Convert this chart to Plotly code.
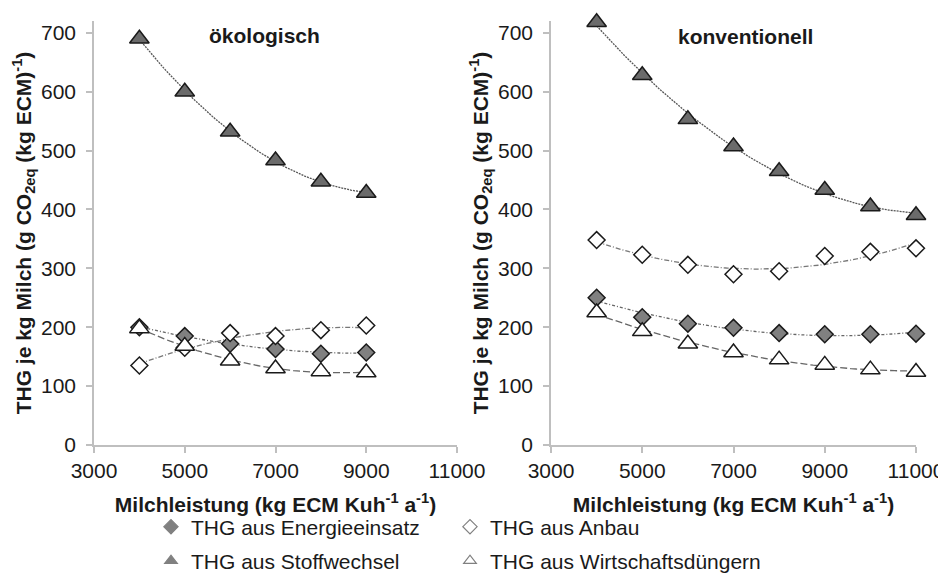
import numpy as np
import plotly.graph_objects as go

# --- data ---
x_oeko = [4000, 5000, 6000, 7000, 8000, 9000]
x_konv = [4000, 5000, 6000, 7000, 8000, 9000, 10000, 11000]

oeko_energie = [200, 185, 172, 163, 155, 157]
oeko_anbau = [135, 165, 190, 185, 195, 203]
oeko_stoffwechsel = [690, 600, 532, 483, 447, 428]
oeko_wirtschaft = [198, 168, 143, 130, 125, 123]

konv_energie = [250, 217, 206, 199, 190, 188, 188, 189]
konv_anbau = [348, 323, 306, 290, 295, 321, 328, 334]
konv_stoffwechsel = [718, 628, 553, 507, 465, 433, 405, 390]
konv_wirtschaft = [225, 193, 172, 157, 145, 136, 128, 124]

series_names = ["THG aus Energieeinsatz", "THG aus Anbau",
                "THG aus Stoffwechsel", "THG aus Wirtschaftsdüngern"]
x_ticks = [3000, 5000, 7000, 9000, 11000]
y_ticks = [0, 100, 200, 300, 400, 500, 600, 700]

FONT = "Liberation Sans, Arial, sans-serif"
OFF = 8  # page body margin
W, H = 946 - OFF, 584 - OFF
# plot area, in screen pixels
L, R, T, B = 94, 916, 21, 445

styles = {
    "THG aus Energieeinsatz": dict(symbol="diamond", fill="#808080", size=13,
                                   dash="3px,2px,1px,2px", lc="#666666"),
    "THG aus Anbau": dict(symbol="diamond", fill="white", size=13,
                          dash="5px,2px,1px,2px", lc="#777777"),
    "THG aus Stoffwechsel": dict(symbol="triangle-up", fill="#6b6b6b", size=17,
                                 dash="2px,1px", lc="#555555"),
    "THG aus Wirtschaftsdüngern": dict(symbol="triangle-up", fill="white", size=17,
                                       dash="7px,3px", lc="#666666"),
}


def px_x(p):
    return (p - L) / (R - L)


def px_y(p):
    return (B - p) / (B - T)


fig = go.Figure()


def add_panel(xs, ys_list, xaxis, yaxis):
    for name, ys in zip(series_names, ys_list):
        st = styles[name]
        # Excel-style 2nd order polynomial trendline
        coef = np.polyfit(xs, ys, 2)
        xf = np.linspace(min(xs), max(xs), 60)
        fig.add_trace(go.Scatter(
            x=xf, y=np.polyval(coef, xf), mode="lines", showlegend=False,
            line=dict(color=st["lc"], width=1.3, dash=st["dash"]),
            xaxis=xaxis, yaxis=yaxis, hoverinfo="skip", cliponaxis=False))
        fig.add_trace(go.Scatter(
            x=xs, y=ys, mode="markers", name=name, showlegend=False,
            marker=dict(symbol=st["symbol"], size=st["size"], color=st["fill"],
                        line=dict(color="#1a1a1a", width=1.5)),
            xaxis=xaxis, yaxis=yaxis, cliponaxis=False))


add_panel(x_oeko, [oeko_energie, oeko_anbau, oeko_stoffwechsel, oeko_wirtschaft], "x", "y")
add_panel(x_konv, [konv_energie, konv_anbau, konv_stoffwechsel, konv_wirtschaft], "x2", "y2")

# legend-only entries with small markers, laid out 2 x 2 (one legend box each)
legend_fill = {"THG aus Energieeinsatz": "#808080", "THG aus Anbau": "white",
               "THG aus Stoffwechsel": "#808080", "THG aus Wirtschaftsdüngern": "white"}
legend_ids = ["legend", "legend2", "legend3", "legend4"]
legend_pos = [(151, 527), (450, 527), (151, 561), (450, 561)]
for name, lid in zip(series_names, legend_ids):
    fig.add_trace(go.Scatter(
        x=[None], y=[None], mode="markers", name=name, legend=lid,
        marker=dict(symbol=styles[name]["symbol"], size=11, color=legend_fill[name],
                    line=dict(color="#808080", width=1.2))))

axis_common = dict(
    showline=True, linecolor="#bfbfbf", linewidth=1.5, showgrid=False, zeroline=False,
    ticks="outside", tickcolor="#bfbfbf", ticklen=6, tickwidth=1.5,
    tickfont=dict(family=FONT, size=21, color="#1a1a1a"),
)
ytitle = "<b>THG je kg Milch (g CO<sub>2eq</sub> (kg ECM)<sup>-1</sup>)</b>"
xtitle = "<b>Milchleistung (kg ECM Kuh<sup>-1</sup> a<sup>-1</sup>)</b>"
title_font = dict(family=FONT, size=21, color="#1a1a1a")
x_labels = [str(v) for v in x_ticks]
leg_font = dict(family=FONT, size=21, color="#1a1a1a")

legends = {}
for lid, (lx, ly) in zip(legend_ids, legend_pos):
    legends[lid] = dict(x=px_x(lx), y=px_y(ly), xanchor="left", yanchor="middle",
                        font=leg_font, itemclick=False, bgcolor="rgba(0,0,0,0)")

fig.update_layout(
    width=W, height=H,
    margin=dict(l=L - OFF, r=W - (R - OFF), t=T - OFF, b=H - (B - OFF), autoexpand=False),
    paper_bgcolor="white", plot_bgcolor="white",
    xaxis=dict(domain=[0, px_x(457)], range=[3000, 11000], tickvals=x_ticks, ticktext=x_labels,
               title=dict(text=xtitle, font=title_font, standoff=16), anchor="y", **axis_common),
    yaxis=dict(domain=[0, 1], range=[0, 720], tickvals=y_ticks, ticklabelstandoff=6,
               title=dict(text=ytitle, font=title_font, standoff=4), anchor="x", **axis_common),
    xaxis2=dict(domain=[px_x(551), 1], range=[3000, 11000], tickvals=x_ticks, ticktext=x_labels,
                title=dict(text=xtitle, font=title_font, standoff=16), anchor="y2", **axis_common),
    yaxis2=dict(domain=[0, 1], range=[0, 720], tickvals=y_ticks, ticklabelstandoff=6,
                title=dict(text=ytitle, font=title_font, standoff=4), anchor="x2", **axis_common),
    annotations=[
        dict(text="<b>ökologisch</b>", x=px_x(264), y=px_y(36), xref="paper", yref="paper",
             xanchor="center", yanchor="middle", showarrow=False,
             font=dict(family=FONT, size=21, color="#1a1a1a")),
        dict(text="<b>konventionell</b>", x=px_x(745), y=px_y(37), xref="paper", yref="paper",
             xanchor="center", yanchor="middle", showarrow=False,
             font=dict(family=FONT, size=21, color="#1a1a1a")),
    ],
    **legends,
)

fig.write_html("out.html")
